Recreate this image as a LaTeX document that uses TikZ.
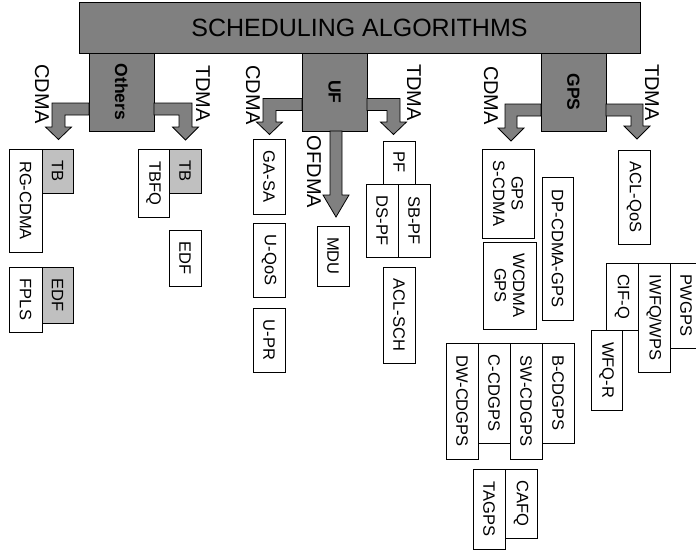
\documentclass[tikz,border=0pt]{standalone}
\usepackage{fontspec}
\setmainfont{Liberation Sans}
\usetikzlibrary{calc}
\definecolor{dkgray}{RGB}{128,128,128}
\definecolor{ltgray}{RGB}{192,192,192}
\newcommand\mkbox[7]{%
  \node[#1, minimum width={(#6-#4)*1pt}, minimum height={(#5-#3)*1pt}] (#2) at ({(#3+#5)/2},{(#4+#6)/2}) {#7};}
\tikzset{
  basebox/.style={draw=black, line width=0.8pt, inner sep=0pt, outer sep=0pt, align=center,
    font=\fontsize{16.5}{18.5}\selectfont},
  wbox/.style={basebox, fill=white, rotate=-90},
  gbox/.style={basebox, fill=ltgray, rotate=-90},
  dbox/.style={basebox, fill=dkgray, rotate=-90, font=\fontsize{17.5}{19}\selectfont\bfseries},
  topbox/.style={basebox, fill=dkgray, font=\fontsize{25}{28}\selectfont},
  lbl/.style={rotate=-90, inner sep=0pt, font=\fontsize{20}{22}\selectfont},
  arr/.style={draw=black, fill=dkgray, line width=0.8pt, line join=miter},
}
\begin{document}
\begin{tikzpicture}[x=1pt, y=-1pt]
\useasboundingbox (0,0) rectangle (696,554);
% main boxes (rotated -90: south = page left, north = page right, east = page bottom)
\node[topbox, minimum width=561pt, minimum height=51pt] (top) at (359.5,27.5) {SCHEDULING ALGORITHMS};
\mkbox{dbox}{others}{89}{53}{154}{131}{Others}
\mkbox{dbox}{uf}{302}{53}{367}{131}{UF}
\mkbox{dbox}{gps}{541}{53}{606}{131}{GPS}
% arrows
\draw[arr] (others.south |- 0,103) -- (52,103) -- (52,127) -- (45.5,127) -- (58.5,139.5) -- (71.5,127) -- (65,127) -- (65,115) -- (others.south |- 0,115) -- cycle;
\draw[arr] (others.north |- 0,103) -- (192,103) -- (192,127) -- (198.5,127) -- (185.5,140) -- (172.5,127) -- (179,127) -- (179,115) -- (others.north |- 0,115) -- cycle;
\draw[arr] (uf.south |- 0,98.5) -- (263,98.5) -- (263,122) -- (256.5,122) -- (269.5,134.5) -- (282.5,122) -- (276,122) -- (276,110.5) -- (uf.south |- 0,110.5) -- cycle;
\draw[arr] (uf.north |- 0,98.5) -- (400,98.5) -- (400,122) -- (406.5,122) -- (393.5,134.5) -- (380.5,122) -- (387,122) -- (387,110.5) -- (uf.north |- 0,110.5) -- cycle;
\draw[arr] (uf.east -| 330,0) -- (330,195) -- (323,195) -- (336,217) -- (349,195) -- (342,195) -- (uf.east -| 342,0) -- cycle;
\draw[arr] (gps.south |- 0,104) -- (505,104) -- (505,128) -- (498,128) -- (511,141) -- (524,128) -- (517,128) -- (517,116) -- (gps.south |- 0,116) -- cycle;
\draw[arr] (gps.north |- 0,104) -- (643,104) -- (643,126) -- (650,126) -- (637,139) -- (624,126) -- (631,126) -- (631,116) -- (gps.north |- 0,116) -- cycle;
% labels
\node[lbl] (l1) at (42,94) {CDMA};
\node[lbl] (l2) at (203,93.5) {TDMA};
\node[lbl] (l3) at (253,95) {CDMA};
\node[lbl] (l4) at (414,92.5) {TDMA};
\node[lbl] (l5) at (491,95.5) {CDMA};
\node[lbl] (l6) at (652,92.5) {TDMA};
\node[lbl] (l7) at (314,172) {OFDMA};
% Others group
\mkbox{wbox}{rgcdma}{9}{149}{42}{252}{RG-CDMA}
\mkbox{gbox}{tba}{42}{149}{73}{193}{TB}
\mkbox{wbox}{fpls}{9}{267}{42}{332}{FPLS}
\mkbox{gbox}{edfa}{42}{267}{73}{323}{EDF}
\mkbox{wbox}{tbfq}{138}{149}{169}{217}{TBFQ}
\mkbox{gbox}{tbb}{169}{149}{201}{193}{TB}
\mkbox{wbox}{edfb}{169}{230}{201}{286}{EDF}
% UF group
\mkbox{wbox}{gasa}{253}{139}{285}{214}{GA-SA}
\mkbox{wbox}{uqos}{253}{223}{285}{297}{U-QoS}
\mkbox{wbox}{upr}{253}{308}{285}{372}{U-PR}
\mkbox{wbox}{mdu}{317}{226}{349}{286}{MDU}
\mkbox{wbox}{pf}{383}{141}{415}{184}{PF}
\mkbox{wbox}{dspf}{366}{184}{398}{257}{DS-PF}
\mkbox{wbox}{sbpf}{398}{184}{430}{257}{SB-PF}
\mkbox{wbox}{aclsch}{383}{267}{415}{363}{ACL-SCH}
% GPS group
\mkbox{wbox}{gpsscdma}{482}{149}{534}{238}{GPS\\S-CDMA}
\mkbox{wbox}{dpcdma}{542}{177}{573}{320}{DP-CDMA-GPS}
\mkbox{wbox}{wcdmagps}{483}{242}{536}{329}{WCDMA\\GPS}
\mkbox{wbox}{aclqos}{618}{150}{650}{244}{ACL-QoS}
\mkbox{wbox}{cifq}{606}{263}{638}{330}{CIF-Q}
\mkbox{wbox}{iwfq}{638}{263}{670}{372}{IWFQ/WPS}
\mkbox{wbox}{pwgps}{670}{263}{702}{348}{PWGPS}
\mkbox{wbox}{wfqr}{591}{330}{622}{410}{WFQ-R}
\mkbox{wbox}{dwcdgps}{446}{343}{478}{459}{DW-CDGPS}
\mkbox{wbox}{ccdgps}{478}{343}{510}{443}{C-CDGPS}
\mkbox{wbox}{swcdgps}{510}{343}{542}{459}{SW-CDGPS}
\mkbox{wbox}{bcdgps}{542}{343}{574}{443}{B-CDGPS}
\mkbox{wbox}{tagps}{473}{469}{505}{549}{TAGPS}
\mkbox{wbox}{cafq}{505}{469}{537}{538}{CAFQ}
\end{tikzpicture}
\end{document}
